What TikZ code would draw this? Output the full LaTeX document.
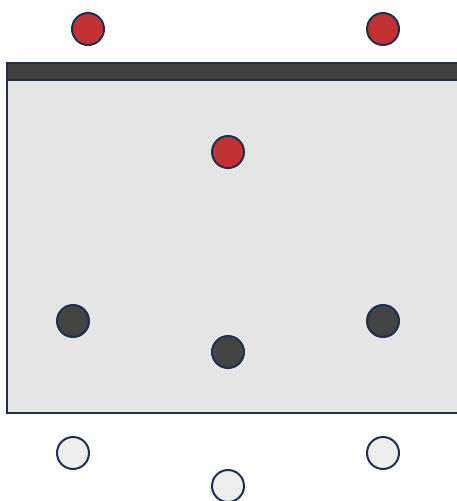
\documentclass[tikz,border=0pt]{standalone}
\definecolor{navy}{HTML}{1F2F52}
\definecolor{redfill}{HTML}{C23232}
\definecolor{darkfill}{HTML}{444444}
\definecolor{lightfill}{HTML}{EEEEEE}
\definecolor{panel}{HTML}{E5E5E5}
\definecolor{band}{HTML}{404040}
\begin{document}
\begin{tikzpicture}[x=1pt,y=-1pt,
  dot/.style={circle,draw=navy,line width=2pt,minimum size=32pt,inner sep=0pt},
  reddot/.style={dot,fill=redfill},
  darkdot/.style={dot,fill=darkfill},
  lightdot/.style={dot,fill=lightfill}]
\useasboundingbox (0,0) rectangle (457,501);
\clip (0,0) rectangle (457,501);
\fill[white] (0,0) rectangle (457,501);
\draw[navy,line width=1.8pt,fill=panel] (7,63) rectangle (470,413);
\draw[navy,line width=1.8pt,fill=band] (7,63) rectangle (470,80);
\node[reddot] (r1) at (88,29) {};
\node[reddot] (r2) at (383,29) {};
\node[reddot] (r3) at (228,152) {};
\node[darkdot] (d1) at (73,321) {};
\node[darkdot] (d2) at (383,321) {};
\node[darkdot] (d3) at (228,352) {};
\node[lightdot] (l1) at (73,453) {};
\node[lightdot] (l2) at (383,453) {};
\node[lightdot] (l3) at (228,486) {};
\end{tikzpicture}
\end{document}
